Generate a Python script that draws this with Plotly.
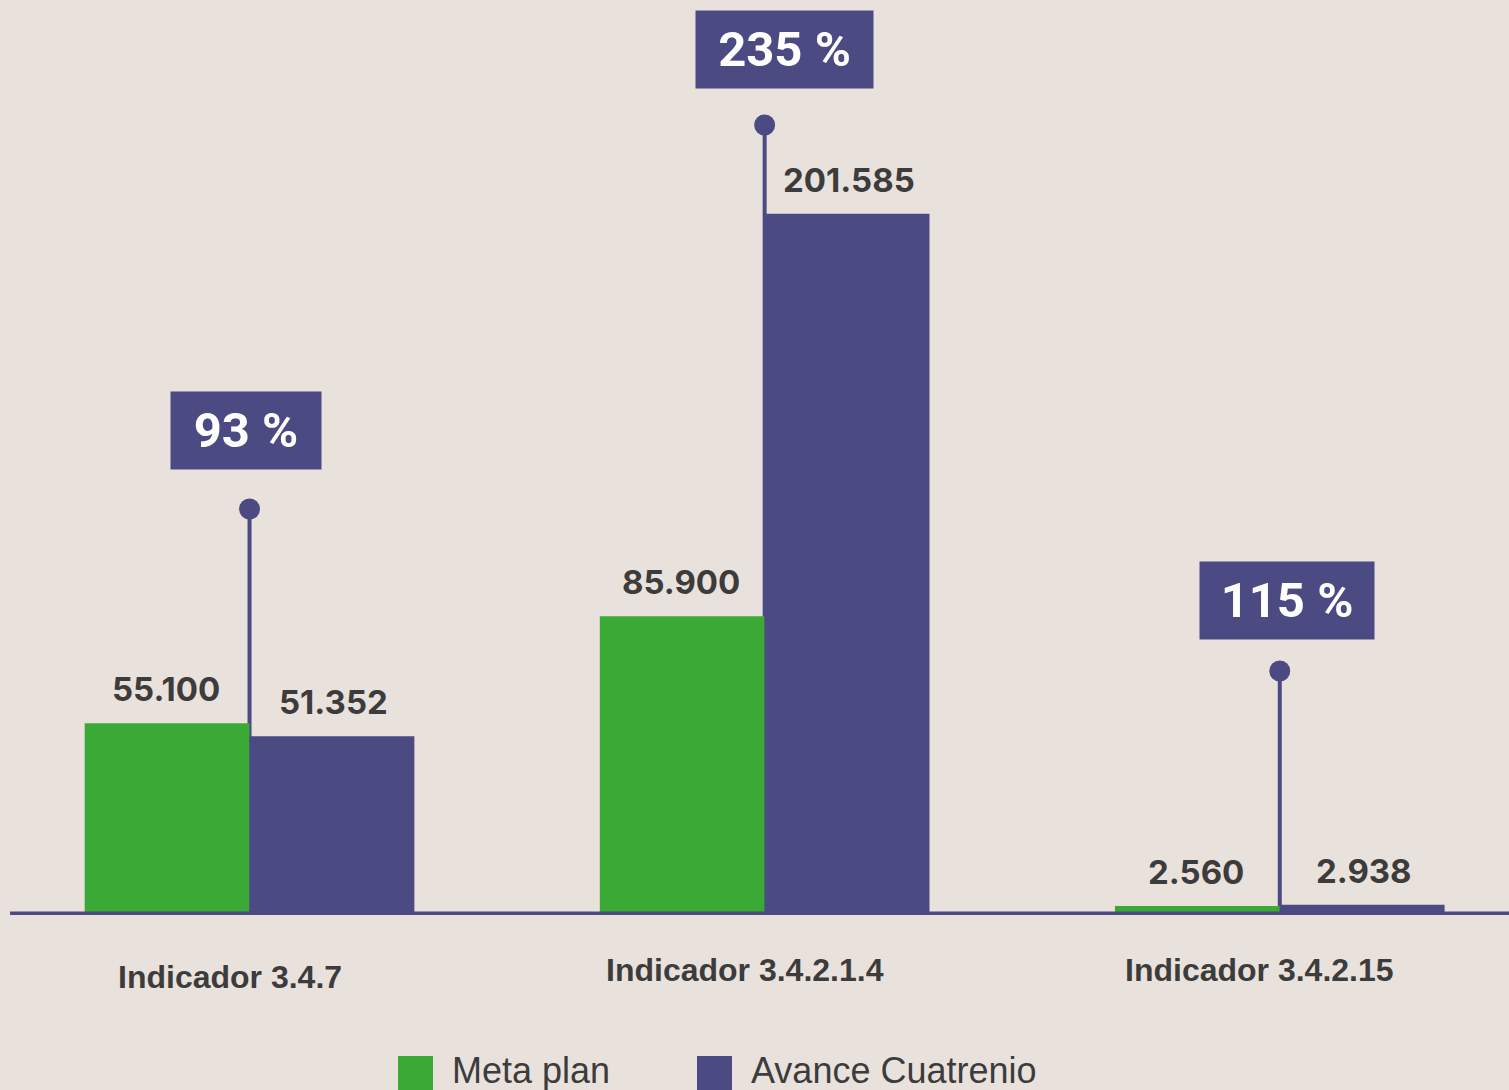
import plotly.graph_objects as go

# data
categories = ["Indicador 3.4.7", "Indicador 3.4.2.1.4", "Indicador 3.4.2.15"]
meta_plan = [55100, 85900, 2560]
avance = [51352, 201585, 2938]
series_names = ["Meta plan", "Avance Cuatrenio"]

# style
GREEN = "#3aa935"
PURPLE = "#4b4a82"
BG = "#e9e2dc"
TXT = "#3c3c3c"
W, H = 1509, 1090
L, B = 10, 175
PLOT_W, PLOT_H = W - L, H - B
YMAX = 263000
XR = [-0.465, 2.445]

def px_to_y(py):
    return (PLOT_H - py) / PLOT_H * YMAX

def px_to_paper_x(px):
    return (px - L) / PLOT_W

def px_to_paper_y(py):
    return 1 - py / PLOT_H

def fmt(v):
    return f"{v:,}".replace(",", ".")

pct = [round(a / m * 100) for a, m in zip(avance, meta_plan)]

# pin / box placement (pixels in the page)
pin_top_px = [509, 125, 671]
box_center_px = [(246, 430), (784, 50), (1287, 600)]
box_w = [150, 177, 174]

fig = go.Figure()
fig.add_trace(go.Bar(x=categories, y=meta_plan, name=series_names[0],
                     marker=dict(color=GREEN, line=dict(width=0))))
fig.add_trace(go.Bar(x=categories, y=avance, name=series_names[1],
                     marker=dict(color=PURPLE, line=dict(width=0))))

shapes = []
annotations = []

# axis line
shapes.append(dict(type="line", xref="paper", yref="y", x0=0, x1=1, y0=0, y1=0,
                   line=dict(color=PURPLE, width=7), layer="above"))

# pins
for i, c in enumerate(categories):
    shapes.append(dict(type="line", xref="x", yref="y", x0=i, x1=i,
                       y0=0, y1=px_to_y(pin_top_px[i]),
                       line=dict(color=PURPLE, width=4), layer="below"))
fig.add_trace(go.Scatter(x=categories, y=[px_to_y(p) for p in pin_top_px],
                         mode="markers", marker=dict(size=21, color=PURPLE),
                         showlegend=False, hoverinfo="skip"))

# value labels
for i, c in enumerate(categories):
    for v, sh in ((meta_plan[i], -84), (avance[i], 84)):
        annotations.append(dict(x=c, y=v, xref="x", yref="y", xshift=sh, yshift=12,
                                yanchor="bottom", showarrow=False, text=f"<b>{fmt(v)}</b>",
                                font=dict(family="Inter, Lato, sans-serif", size=33, color=TXT)))

# percentage boxes
for i, c in enumerate(categories):
    cx, cy = box_center_px[i]
    annotations.append(dict(x=px_to_paper_x(cx), y=px_to_paper_y(cy), xref="paper", yref="paper",
                            xanchor="center", yanchor="middle", showarrow=False,
                            text=f"<b>{pct[i]} %</b>", bgcolor=PURPLE, borderpad=0,
                            width=box_w[i], height=77,
                            font=dict(family="Roboto, sans-serif", size=49, color="white")))

# category labels
label_y_px = [977, 970, 970]
for i, c in enumerate(categories):
    annotations.append(dict(x=c, y=px_to_paper_y(label_y_px[i]), xref="x", yref="paper",
                            xshift=-20, yanchor="middle", showarrow=False, text=f"<b>{c}</b>",
                            font=dict(family="Liberation Sans, Arial, sans-serif", size=32, color=TXT)))

# legend
legend_items = [(398, GREEN, series_names[0]), (697, PURPLE, series_names[1])]
for x0, col, name in legend_items:
    shapes.append(dict(type="rect", xref="paper", yref="paper",
                       x0=px_to_paper_x(x0), x1=px_to_paper_x(x0 + 35),
                       y0=px_to_paper_y(1056), y1=px_to_paper_y(1095),
                       fillcolor=col, line=dict(width=0)))
    annotations.append(dict(x=px_to_paper_x(x0 + 52), y=px_to_paper_y(1070), xref="paper", yref="paper",
                            xanchor="left", yanchor="middle", showarrow=False, text=name,
                            font=dict(family="Liberation Sans, Arial, sans-serif", size=36, color=TXT)))

fig.update_layout(
    width=W, height=H,
    margin=dict(l=L, r=0, t=0, b=B),
    paper_bgcolor=BG, plot_bgcolor=BG,
    barmode="group", bargap=0.36, bargroupgap=0,
    showlegend=False,
    xaxis=dict(range=XR, showticklabels=False, showgrid=False, zeroline=False, showline=False),
    yaxis=dict(range=[0, YMAX], visible=False, showgrid=False, zeroline=False),
    shapes=shapes, annotations=annotations,
)

# drop the default page margin so the figure sits at the top-left corner
fig.write_html("out.html", config={"displayModeBar": False},
               post_script="document.body.style.margin='0';")
